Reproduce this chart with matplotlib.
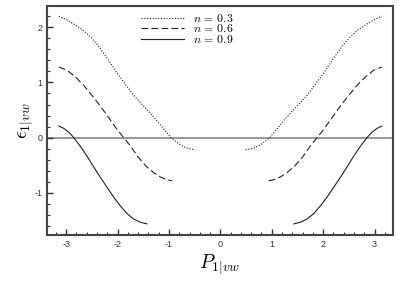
import matplotlib
matplotlib.use("Agg")
import matplotlib.pyplot as plt
from matplotlib.ticker import MultipleLocator
import numpy as np

plt.rcParams['mathtext.fontset'] = 'cm'
plt.rcParams['axes.unicode_minus'] = False
plt.rcParams['font.family'] = ['Liberation Sans', 'DejaVu Sans']

# left branch readings (right branch is the mirror image)
x_n03 = [-3.14, -2.98, -2.82, -2.66, -2.50, -2.34, -2.18, -2.01, -1.85, -1.69,
         -1.50, -1.30, -1.11, -0.96, -0.78, -0.65, -0.49]
y_n03 = [2.20, 2.13, 2.04, 1.94, 1.80, 1.62, 1.41, 1.17, 0.97, 0.77,
         0.58, 0.38, 0.17, 0.00, -0.13, -0.19, -0.22]

x_n06 = [-3.14, -2.98, -2.82, -2.66, -2.50, -2.34, -2.14, -2.01, -1.88, -1.75,
         -1.60, -1.45, -1.30, -1.17, -1.05, -0.94]
y_n06 = [1.28, 1.22, 1.10, 0.95, 0.77, 0.58, 0.32, 0.15, 0.00, -0.15,
         -0.35, -0.51, -0.63, -0.71, -0.76, -0.78]

x_n09 = [-3.14, -3.05, -2.95, -2.85, -2.72, -2.59, -2.47, -2.34, -2.21, -2.08,
         -1.95, -1.82, -1.69, -1.56, -1.43]
y_n09 = [0.21, 0.17, 0.10, 0.00, -0.16, -0.34, -0.52, -0.71, -0.89, -1.07,
         -1.23, -1.37, -1.47, -1.53, -1.56]

labels = [r'$n\,=\,0.3$', r'$n\,=\,0.6$', r'$n\,=\,0.9$']

fig = plt.figure(figsize=(3.99, 2.82), dpi=100)
ax = fig.add_axes([0.118, 0.167, 0.866, 0.813])

col = '#222222'
ax.axhline(0, color='#999999', lw=1.4, zorder=1)

series = [(x_n03, y_n03, dict(linestyle=(0, (1, 1.5)))),
          (x_n06, y_n06, dict(linestyle=(0, (6, 3)))),
          (x_n09, y_n09, dict(linestyle='-'))]
handles = []
for (xs, ys, st), lab in zip(series, labels):
    xs = np.array(xs); ys = np.array(ys)
    h, = ax.plot(xs, ys, color=col, lw=0.8, label=lab, **st)
    ax.plot(-xs[::-1], ys[::-1], color=col, lw=0.8, **st)
    handles.append(h)

ax.set_xlim(-3.37, 3.35)
ax.set_ylim(-1.76, 2.39)
ax.xaxis.set_major_locator(MultipleLocator(1))
ax.xaxis.set_minor_locator(MultipleLocator(0.2))
ax.yaxis.set_major_locator(MultipleLocator(1))
ax.yaxis.set_minor_locator(MultipleLocator(0.2))
ax.tick_params(which='both', direction='in', top=False, right=False,
               colors='#333333', labelsize=6.5, labelcolor='#333333')
ax.tick_params(which='major', length=4, width=1)
ax.tick_params(which='minor', length=2, width=0.8)
for s in ax.spines.values():
    s.set_color('#444444')
    s.set_linewidth(1.5)

ax.set_xlabel(r'$P_{1|vw}$', fontsize=14, labelpad=3)
ax.set_ylabel(r'$\epsilon_{1|vw}$', fontsize=14, labelpad=-1)

ax.legend(handles=handles, loc='upper left', bbox_to_anchor=(0.25, 1.0),
          frameon=False, fontsize=8.5, handlelength=3.7, handletextpad=0.75,
          labelspacing=-0.12, borderaxespad=0.2)

fig.savefig('out.png', dpi=100)
